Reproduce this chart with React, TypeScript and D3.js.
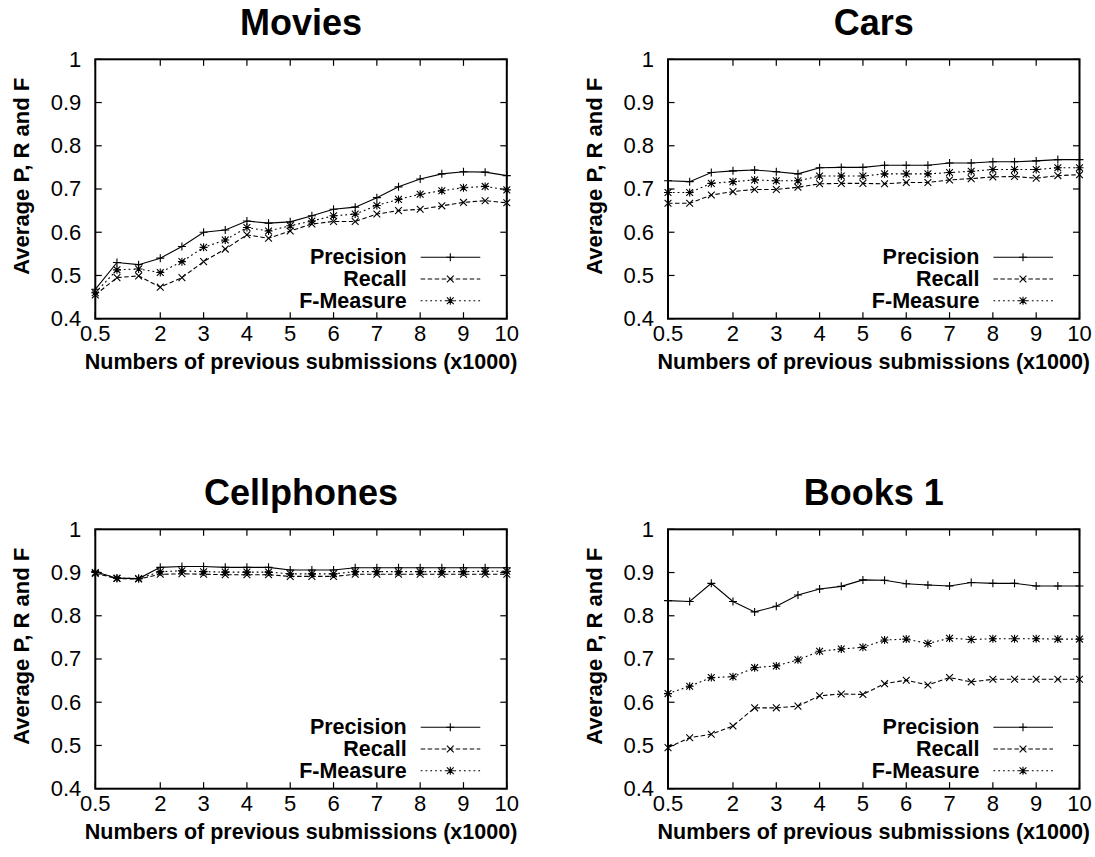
import React from "react";
import * as d3 from "d3";

// Numbers of previous submissions (x1000)
const submissions = [0.5, 1, 1.5, 2, 2.5, 3, 3.5, 4, 4.5, 5, 5.5, 6, 6.5, 7, 7.5, 8, 8.5, 9, 9.5, 10];

const xTickValues = [0.5, 2, 3, 4, 5, 6, 7, 8, 9, 10];
const yTickValues = [0.4, 0.5, 0.6, 0.7, 0.8, 0.9, 1];

const moviesPrecision = [0.468, 0.53, 0.525, 0.54, 0.567, 0.6, 0.605, 0.626, 0.621, 0.624, 0.638, 0.653, 0.658, 0.68, 0.705, 0.723, 0.735, 0.74, 0.739, 0.731];
const moviesRecall = [0.455, 0.495, 0.499, 0.473, 0.495, 0.532, 0.561, 0.594, 0.586, 0.603, 0.619, 0.625, 0.625, 0.642, 0.65, 0.653, 0.661, 0.669, 0.673, 0.668];
const moviesFMeasure = [0.46, 0.513, 0.515, 0.507, 0.532, 0.565, 0.582, 0.611, 0.603, 0.615, 0.626, 0.638, 0.642, 0.662, 0.676, 0.688, 0.696, 0.703, 0.706, 0.698];

const carsPrecision = [0.719, 0.717, 0.738, 0.742, 0.744, 0.74, 0.735, 0.749, 0.75, 0.75, 0.755, 0.755, 0.755, 0.76, 0.76, 0.763, 0.763, 0.765, 0.768, 0.768];
const carsRecall = [0.667, 0.667, 0.686, 0.694, 0.699, 0.699, 0.704, 0.712, 0.713, 0.713, 0.712, 0.715, 0.715, 0.721, 0.724, 0.728, 0.729, 0.725, 0.731, 0.733];
const carsFMeasure = [0.692, 0.692, 0.713, 0.717, 0.721, 0.719, 0.719, 0.73, 0.73, 0.73, 0.735, 0.735, 0.735, 0.738, 0.741, 0.745, 0.745, 0.745, 0.749, 0.749];

const cellphonesPrecision = [0.902, 0.887, 0.886, 0.912, 0.914, 0.914, 0.912, 0.912, 0.912, 0.906, 0.906, 0.906, 0.911, 0.911, 0.911, 0.911, 0.911, 0.911, 0.911, 0.911];
const cellphonesRecall = [0.898, 0.886, 0.885, 0.896, 0.897, 0.896, 0.895, 0.895, 0.895, 0.891, 0.891, 0.891, 0.896, 0.896, 0.896, 0.896, 0.896, 0.896, 0.896, 0.896];
const cellphonesFMeasure = [0.9, 0.887, 0.886, 0.902, 0.904, 0.902, 0.901, 0.901, 0.901, 0.897, 0.897, 0.897, 0.902, 0.902, 0.902, 0.902, 0.902, 0.902, 0.903, 0.903];

const booksPrecision = [0.835, 0.833, 0.875, 0.833, 0.809, 0.822, 0.848, 0.862, 0.868, 0.883, 0.882, 0.874, 0.871, 0.869, 0.877, 0.875, 0.875, 0.869, 0.869, 0.869];
const booksRecall = [0.495, 0.518, 0.526, 0.545, 0.587, 0.587, 0.591, 0.615, 0.619, 0.618, 0.643, 0.651, 0.64, 0.657, 0.647, 0.653, 0.653, 0.653, 0.653, 0.653];
const booksFMeasure = [0.62, 0.637, 0.657, 0.659, 0.68, 0.684, 0.698, 0.718, 0.723, 0.727, 0.744, 0.746, 0.736, 0.748, 0.745, 0.747, 0.747, 0.747, 0.746, 0.746];

const seriesNames = ["Precision", "Recall", "F-Measure"];

type Panel = { title: string; left: number; top: number; series: number[][] };

const panels: Panel[] = [
  { title: "Movies", left: 95.3, top: 59.3, series: [moviesPrecision, moviesRecall, moviesFMeasure] },
  { title: "Cars", left: 668, top: 59.3, series: [carsPrecision, carsRecall, carsFMeasure] },
  { title: "Cellphones", left: 95.3, top: 529.3, series: [cellphonesPrecision, cellphonesRecall, cellphonesFMeasure] },
  { title: "Books 1", left: 668, top: 529.3, series: [booksPrecision, booksRecall, booksFMeasure] },
];

const PLOT_W = 411.5;
const PLOT_H = 259.4;
const FONT = "'Liberation Sans', Arial, Helvetica, sans-serif";
const dashes = [null, "4.5,2.5", "1.8,3"];

function Marker({ kind, x, y }: { kind: number; x: number; y: number }) {
  const p = 4;
  const c = 3.4;
  const plus = `M${x - p},${y}H${x + p}M${x},${y - p}V${y + p}`;
  const cross = `M${x - c},${y - c}L${x + c},${y + c}M${x - c},${y + c}L${x + c},${y - c}`;
  const d = kind === 0 ? plus : kind === 1 ? cross : plus + cross;
  return <path d={d} stroke="#000" strokeWidth={1.1} fill="none" />;
}

function PanelChart({ panel }: { panel: Panel }) {
  const x = d3.scaleLinear().domain([0.5, 10]).range([0, PLOT_W]);
  const y = d3.scaleLinear().domain([0.4, 1]).range([PLOT_H, 0]);
  const line = d3
    .line<number>()
    .x((_, i) => x(submissions[i]))
    .y((v) => y(v));
  const tick = 6.5;

  return (
    <g transform={`translate(${panel.left},${panel.top})`}>
      <text x={PLOT_W / 2} y={-24} textAnchor="middle" fontSize={36} fontWeight="bold" fontFamily={FONT}>
        {panel.title}
      </text>

      {/* tick marks, mirrored on all four sides */}
      {xTickValues.map((t) => (
        <g key={"xt" + t}>
          <line x1={x(t)} x2={x(t)} y1={PLOT_H} y2={PLOT_H - tick} stroke="#000" strokeWidth={1.2} />
          <line x1={x(t)} x2={x(t)} y1={0} y2={tick} stroke="#000" strokeWidth={1.2} />
          <text x={x(t)} y={PLOT_H + 14.5} textAnchor="middle" dominantBaseline="central" fontSize={22} fontFamily={FONT}>
            {t}
          </text>
        </g>
      ))}
      {yTickValues.map((t) => (
        <g key={"yt" + t}>
          <line x1={0} x2={tick} y1={y(t)} y2={y(t)} stroke="#000" strokeWidth={1.2} />
          <line x1={PLOT_W} x2={PLOT_W - tick} y1={y(t)} y2={y(t)} stroke="#000" strokeWidth={1.2} />
          <text x={-14} y={y(t)} textAnchor="end" dominantBaseline="central" fontSize={22} fontFamily={FONT}>
            {t}
          </text>
        </g>
      ))}

      {/* data */}
      {panel.series.map((vals, k) => (
        <g key={"s" + k}>
          <path
            d={line(vals) || ""}
            fill="none"
            stroke="#000"
            strokeWidth={1.1}
            strokeDasharray={dashes[k] || undefined}
          />
          {vals.map((v, i) => (
            <Marker key={i} kind={k} x={x(submissions[i])} y={y(v)} />
          ))}
        </g>
      ))}

      {/* legend */}
      {seriesNames.map((name, k) => {
        const ly = 198 + k * 21.7;
        return (
          <g key={name}>
            <text x={311.4} y={ly} textAnchor="end" dominantBaseline="central" fontSize={21.5} fontWeight="bold" fontFamily={FONT}>
              {name}
            </text>
            <line
              x1={325.4}
              x2={385}
              y1={ly}
              y2={ly}
              stroke="#000"
              strokeWidth={1.1}
              strokeDasharray={dashes[k] || undefined}
            />
            <Marker kind={k} x={355} y={ly} />
          </g>
        );
      })}

      <rect x={0} y={0} width={PLOT_W} height={PLOT_H} fill="none" stroke="#000" strokeWidth={2} />

      <text
        x={PLOT_W / 2}
        y={PLOT_H + 43}
        textAnchor="middle"
        dominantBaseline="central"
        fontSize={21.5}
        fontWeight="bold"
        fontFamily={FONT}
      >
        Numbers of previous submissions (x1000)
      </text>
      <text
        transform={`translate(${-74},${117}) rotate(-90)`}
        textAnchor="middle"
        dominantBaseline="central"
        fontSize={22}
        fontWeight="bold"
        fontFamily={FONT}
      >
        Average P, R and F
      </text>
    </g>
  );
}

export default function App() {
  return (
    <svg
      width={1095}
      height={857}
      viewBox="0 0 1095 857"
      style={{ position: "absolute", left: 0, top: 0, background: "#fff" }}
    >
      <rect width={1095} height={857} fill="#fff" />
      {panels.map((p) => (
        <PanelChart key={p.title} panel={p} />
      ))}
    </svg>
  );
}
